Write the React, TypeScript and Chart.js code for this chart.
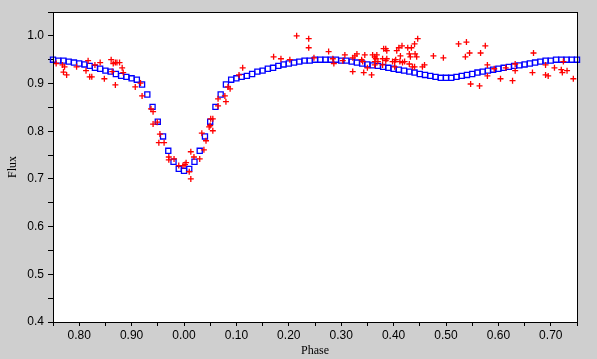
import React, { useEffect, useRef } from 'react';
import { Chart, registerables } from 'chart.js';

Chart.register(...registerables);

const modelPhase = [
  -0.25, -0.24, -0.23, -0.22, -0.21, -0.2, -0.19, -0.18, -0.17, -0.16,
  -0.15, -0.14, -0.13, -0.12, -0.11, -0.1, -0.09, -0.08, -0.07, -0.06,
  -0.05, -0.04, -0.03, -0.02, -0.01, 0.0, 0.01, 0.02, 0.03, 0.04,
  0.05, 0.06, 0.07, 0.08, 0.09, 0.1, 0.11, 0.12, 0.13, 0.14,
  0.15, 0.16, 0.17, 0.18, 0.19, 0.2, 0.21, 0.22, 0.23, 0.24,
  0.25, 0.26, 0.27, 0.28, 0.29, 0.3, 0.31, 0.32, 0.33, 0.34,
  0.35, 0.36, 0.37, 0.38, 0.39, 0.4, 0.41, 0.42, 0.43, 0.44,
  0.45, 0.46, 0.47, 0.48, 0.49, 0.5, 0.51, 0.52, 0.53, 0.54,
  0.55, 0.56, 0.57, 0.58, 0.59, 0.6, 0.61, 0.62, 0.63, 0.64,
  0.65, 0.66, 0.67, 0.68, 0.69, 0.7, 0.71, 0.72, 0.73, 0.74, 0.75,
];

const modelFlux = [
  0.95, 0.948, 0.948, 0.946, 0.944, 0.942, 0.94, 0.937, 0.933, 0.931,
  0.927, 0.925, 0.92, 0.916, 0.914, 0.911, 0.908, 0.898, 0.877, 0.851,
  0.82, 0.789, 0.759, 0.736, 0.721, 0.717, 0.721, 0.736, 0.759, 0.789,
  0.82, 0.851, 0.877, 0.898, 0.908, 0.911, 0.914, 0.916, 0.92, 0.925,
  0.927, 0.931, 0.933, 0.937, 0.94, 0.942, 0.944, 0.946, 0.948, 0.948,
  0.95, 0.95, 0.95, 0.95, 0.95, 0.948, 0.948, 0.946, 0.944, 0.942,
  0.94, 0.938, 0.937, 0.935, 0.933, 0.931, 0.929, 0.927, 0.925, 0.923,
  0.92, 0.918, 0.916, 0.914, 0.912, 0.912, 0.912, 0.914, 0.916, 0.918,
  0.92, 0.923, 0.925, 0.927, 0.929, 0.931, 0.933, 0.935, 0.937, 0.938,
  0.94, 0.942, 0.944, 0.946, 0.948, 0.948, 0.95, 0.95, 0.95, 0.95, 0.95,
];

const obsPhase = [
  -0.244, -0.232, -0.228, -0.23, -0.224, -0.205, -0.183, -0.187, -0.18, -0.176,
  -0.17, -0.16, -0.152, -0.139, -0.135, -0.131, -0.128, -0.123, -0.137, -0.131,
  -0.118, -0.116, -0.093, -0.083, -0.08, -0.063, -0.059, -0.059, -0.051, -0.046,
  -0.048, -0.038, -0.029, -0.019, -0.029, -0.01, -0.002, 0.002, 0.004, 0.01,
  0.013, 0.019, 0.013, 0.03, 0.038, 0.042, 0.034, 0.055, 0.048, 0.05,
  0.051, 0.055, 0.065, 0.065, 0.08, 0.078, 0.088, 0.084, 0.105, 0.112,
  0.171, 0.185, 0.202, 0.215, 0.238, 0.238, 0.248, 0.276, 0.284, 0.286,
  0.307, 0.303, 0.322, 0.322, 0.326, 0.33, 0.339, 0.341, 0.345, 0.343,
  0.35, 0.358, 0.36, 0.364, 0.368, 0.366, 0.364, 0.37, 0.364, 0.379,
  0.381, 0.385, 0.387, 0.379, 0.387, 0.385, 0.398, 0.402, 0.402, 0.404,
  0.406, 0.41, 0.416, 0.413, 0.412, 0.417, 0.421, 0.427, 0.434, 0.44,
  0.446, 0.43, 0.432, 0.441, 0.444, 0.43, 0.436, 0.44, 0.455, 0.459,
  0.476, 0.495, 0.524, 0.539, 0.545, 0.537, 0.547, 0.564, 0.566, 0.575,
  0.579, 0.579, 0.592, 0.604, 0.614, 0.627, 0.632, 0.632, 0.665, 0.667,
  0.69, 0.69, 0.695, 0.707, 0.72, 0.722, 0.724, 0.731, 0.743,
];

const obsFlux = [
  0.942, 0.939, 0.935, 0.924, 0.918, 0.935, 0.948, 0.927, 0.914, 0.914,
  0.939, 0.944, 0.91, 0.95, 0.942, 0.944, 0.944, 0.944, 0.925, 0.897,
  0.933, 0.923, 0.893, 0.901, 0.874, 0.847, 0.841, 0.815, 0.819, 0.794,
  0.776, 0.776, 0.746, 0.742, 0.74, 0.728, 0.728, 0.73, 0.734, 0.715,
  0.7, 0.746, 0.757, 0.742, 0.761, 0.78, 0.796, 0.801, 0.809, 0.812,
  0.826, 0.826, 0.853, 0.868, 0.862, 0.874, 0.889, 0.893, 0.918, 0.933,
  0.956, 0.952, 0.95, 1.0, 0.994, 0.975, 0.954, 0.967, 0.952, 0.942,
  0.96, 0.948, 0.925, 0.954, 0.958, 0.962, 0.95, 0.946, 0.96, 0.923,
  0.933, 0.918, 0.96, 0.956, 0.96, 0.952, 0.946, 0.946, 0.939, 0.939,
  0.973, 0.973, 0.969, 0.952, 0.952, 0.948, 0.946, 0.946, 0.935, 0.95,
  0.969, 0.975, 0.979, 0.958, 0.946, 0.944, 0.946, 0.975, 0.975, 0.983,
  0.994, 0.962, 0.956, 0.962, 0.956, 0.941, 0.935, 0.935, 0.935, 0.939,
  0.958, 0.954, 0.983, 0.987, 0.964, 0.956, 0.899, 0.895, 0.964, 0.979,
  0.939, 0.916, 0.931, 0.91, 0.933, 0.906, 0.941, 0.927, 0.923, 0.964,
  0.939, 0.918, 0.916, 0.933, 0.929, 0.923, 0.946, 0.927, 0.91,
];

const xMin = -0.25;
const xMax = 0.75;
const yMin = 0.4;
const yMax = 1.05;

const tickFont = { family: '"Liberation Sans", Arial, sans-serif', size: 12 };
const titleFont = { family: '"Liberation Serif", "Times New Roman", serif', size: 12 };

const plotFrame = {
  id: 'plotFrame',
  beforeDatasetsDraw(chart: any) {
    const { ctx, chartArea } = chart;
    const { left, top, right, bottom } = chartArea;
    ctx.save();
    ctx.fillStyle = '#ffffff';
    ctx.fillRect(left, top, right - left, bottom - top);
    ctx.restore();
  },
  afterDraw(chart: any) {
    const { ctx, chartArea } = chart;
    const l = Math.round(chartArea.left) + 0.5;
    const t = Math.round(chartArea.top) + 0.5;
    const r = Math.round(chartArea.right) + 0.5;
    const b = Math.round(chartArea.bottom) + 0.5;
    ctx.save();
    ctx.strokeStyle = '#000000';
    ctx.lineWidth = 1;
    ctx.strokeRect(l, t, r - l, b - t);
    ctx.restore();
  },
};

export default function App() {
  const canvasRef = useRef<HTMLCanvasElement | null>(null);

  useEffect(() => {
    document.body.style.margin = '0';
    const canvas = canvasRef.current;
    if (!canvas) return;
    const chart = new Chart(canvas, {
      type: 'scatter',
      data: {
        datasets: [
          {
            label: 'Observed',
            data: obsPhase.map((p, i) => ({ x: p, y: obsFlux[i] })),
            pointStyle: 'cross',
            radius: 3,
            borderColor: '#ff0000',
            backgroundColor: '#ff0000',
            borderWidth: 1.3,
            clip: false as any,
            order: 0,
          },
          {
            label: 'Model',
            data: modelPhase.map((p, i) => ({ x: p, y: modelFlux[i] })),
            pointStyle: 'rect',
            radius: 3.6,
            borderColor: '#0000ff',
            backgroundColor: 'rgba(0,0,0,0)',
            borderWidth: 1.3,
            clip: false as any,
            order: 1,
          },
        ],
      },
      plugins: [plotFrame],
      options: {
        responsive: false,
        devicePixelRatio: 1,
        animation: false,
        events: [],
        layout: { padding: { top: 12, right: 20, left: 0, bottom: 0 } },
        plugins: {
          legend: { display: false },
          tooltip: { enabled: false },
          title: { display: false },
        },
        scales: {
          x: {
            type: 'linear',
            min: xMin,
            max: xMax,
            afterFit: (s: any) => {
              s.height = 37;
            },
            border: { display: false },
            grid: {
              drawOnChartArea: false,
              drawTicks: true,
              tickLength: 4,
              color: '#000000',
              lineWidth: 1,
            },
            ticks: {
              stepSize: 0.05,
              autoSkip: false,
              maxRotation: 0,
              color: '#000000',
              font: tickFont,
              padding: 2,
              callback: (v: any) => {
                const r = Math.round(Number(v) * 100);
                if (r % 10 !== 0) return '';
                return (((r + 100) % 100) / 100).toFixed(2);
              },
            },
            title: {
              display: true,
              text: 'Phase',
              color: '#000000',
              font: titleFont,
              padding: { top: 0, bottom: 1 },
            },
          },
          y: {
            type: 'linear',
            min: yMin,
            max: yMax,
            afterFit: (s: any) => {
              s.width = 53;
            },
            border: { display: false },
            grid: {
              drawOnChartArea: false,
              drawTicks: true,
              tickLength: 5,
              color: '#000000',
              lineWidth: 1,
            },
            ticks: {
              stepSize: 0.05,
              autoSkip: false,
              color: '#000000',
              font: tickFont,
              padding: 4,
              callback: (v: any) => {
                const r = Math.round(Number(v) * 100);
                if (r % 10 !== 0) return '';
                return (r / 100).toFixed(1);
              },
            },
            title: {
              display: true,
              text: 'Flux',
              color: '#000000',
              font: titleFont,
              padding: { top: 6, bottom: 0 },
            },
          },
        },
      },
    } as any);
    return () => {
      chart.destroy();
    };
  }, []);

  return (
    <div
      style={{
        position: 'fixed',
        left: 0,
        top: 0,
        width: 597,
        height: 359,
        background: '#cfcfcf',
      }}
    >
      <canvas ref={canvasRef} width={597} height={359} style={{ display: 'block' }} />
    </div>
  );
}
